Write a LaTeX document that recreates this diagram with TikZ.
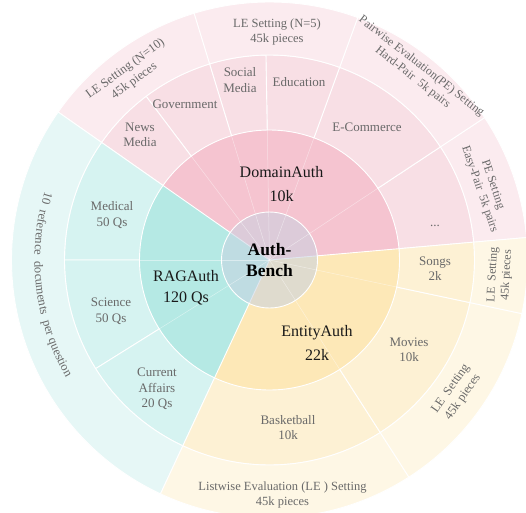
\documentclass[tikz,border=0pt]{standalone}
\usepackage{fontspec}
\setmainfont{Liberation Serif}
\usetikzlibrary{decorations.text}

\definecolor{pinkA}{RGB}{245,196,208}
\definecolor{pinkB}{RGB}{248,223,229}
\definecolor{pinkC}{RGB}{251,235,239}
\definecolor{tealA}{RGB}{181,233,228}
\definecolor{tealB}{RGB}{214,243,241}
\definecolor{tealC}{RGB}{230,247,246}
\definecolor{yelA}{RGB}{253,232,183}
\definecolor{yelB}{RGB}{253,241,212}
\definecolor{yelC}{RGB}{254,247,229}
\definecolor{hubgray}{RGB}{200,210,226}
\definecolor{txtgray}{RGB}{105,105,105}

\tikzset{
  seg/.style={fill=#1, draw=white, line width=0.9pt},
  faint/.style={white, opacity=0.45, line width=0.5pt},
  lvlone/.style={align=center, text=black!90, font=\fontsize{16}{24}\selectfont},
  lvltwo/.style={align=center, text=txtgray, font=\fontsize{13}{15.5}\selectfont},
  lvlthree/.style={align=center, text=txtgray, font=\fontsize{12.5}{15}\selectfont},
}

\begin{document}
\begin{tikzpicture}[x=1pt,y=1pt]
        \useasboundingbox (-269.5,-252) rectangle (256.5,260);
        \clip (-269.5,-252) rectangle (256.5,260);

        % inner ring
        \fill[pinkA] (0,0) -- (5:130) arc[start angle=5,end angle=145,radius=130] -- cycle;
        \fill[tealA] (0,0) -- (145:130) arc[start angle=145,end angle=245,radius=130] -- cycle;
        \fill[yelA] (0,0) -- (245:130) arc[start angle=245,end angle=365,radius=130] -- cycle;
        \draw[white, line width=0.9pt] (0,0) -- (5:130);
        \draw[white, line width=0.9pt] (0,0) -- (145:130);
        \draw[white, line width=0.9pt] (0,0) -- (245:130);

        % middle ring
        \path[seg=pinkB] (5:130) arc[start angle=5,end angle=33.5,radius=130] -- (33.5:205) arc[start angle=33.5,end angle=5,radius=205] -- cycle;
        \path[seg=pinkB] (33.5:130) arc[start angle=33.5,end angle=70,radius=130] -- (70:205) arc[start angle=70,end angle=33.5,radius=205] -- cycle;
        \path[seg=pinkB] (70:130) arc[start angle=70,end angle=91,radius=130] -- (91:205) arc[start angle=91,end angle=70,radius=205] -- cycle;
        \path[seg=pinkB] (91:130) arc[start angle=91,end angle=107,radius=130] -- (107:205) arc[start angle=107,end angle=91,radius=205] -- cycle;
        \path[seg=pinkB] (107:130) arc[start angle=107,end angle=127,radius=130] -- (127:205) arc[start angle=127,end angle=107,radius=205] -- cycle;
        \path[seg=pinkB] (127:130) arc[start angle=127,end angle=145,radius=130] -- (145:205) arc[start angle=145,end angle=127,radius=205] -- cycle;
        \path[seg=tealB] (145:130) arc[start angle=145,end angle=180,radius=130] -- (180:205) arc[start angle=180,end angle=145,radius=205] -- cycle;
        \path[seg=tealB] (180:130) arc[start angle=180,end angle=212,radius=130] -- (212:205) arc[start angle=212,end angle=180,radius=205] -- cycle;
        \path[seg=tealB] (212:130) arc[start angle=212,end angle=245,radius=130] -- (245:205) arc[start angle=245,end angle=212,radius=205] -- cycle;
        \path[seg=yelB] (245:130) arc[start angle=245,end angle=302.7,radius=130] -- (302.7:205) arc[start angle=302.7,end angle=245,radius=205] -- cycle;
        \path[seg=yelB] (302.7:130) arc[start angle=302.7,end angle=348,radius=130] -- (348:205) arc[start angle=348,end angle=302.7,radius=205] -- cycle;
        \path[seg=yelB] (348:130) arc[start angle=348,end angle=365,radius=130] -- (365:205) arc[start angle=365,end angle=348,radius=205] -- cycle;

        % outer ring
        \path[seg=pinkC] (5:205) arc[start angle=5,end angle=33.5,radius=205] -- (33.5:258) arc[start angle=33.5,end angle=5,radius=258] -- cycle;
        \path[seg=pinkC] (33.5:205) arc[start angle=33.5,end angle=70,radius=205] -- (70:258) arc[start angle=70,end angle=33.5,radius=258] -- cycle;
        \path[seg=pinkC] (70:205) arc[start angle=70,end angle=107,radius=205] -- (107:258) arc[start angle=107,end angle=70,radius=258] -- cycle;
        \path[seg=pinkC] (107:205) arc[start angle=107,end angle=145,radius=205] -- (145:258) arc[start angle=145,end angle=107,radius=258] -- cycle;
        \path[seg=tealC] (145:205) arc[start angle=145,end angle=245,radius=205] -- (245:258) arc[start angle=245,end angle=145,radius=258] -- cycle;
        \path[seg=yelC] (245:205) arc[start angle=245,end angle=302.7,radius=205] -- (302.7:258) arc[start angle=302.7,end angle=245,radius=258] -- cycle;
        \path[seg=yelC] (302.7:205) arc[start angle=302.7,end angle=348,radius=205] -- (348:258) arc[start angle=348,end angle=302.7,radius=258] -- cycle;
        \path[seg=yelC] (348:205) arc[start angle=348,end angle=365,radius=205] -- (365:258) arc[start angle=365,end angle=348,radius=258] -- cycle;

        % hub
        \filldraw[fill=hubgray, fill opacity=0.55, draw=white, line width=0.9pt] (0,0) circle (48);

        % faint lines in the inner ring
        \draw[faint] (0,0) -- (33.5:130);
        \draw[faint] (0,0) -- (70:130);
        \draw[faint] (0,0) -- (91:130);
        \draw[faint] (0,0) -- (107:130);
        \draw[faint] (0,0) -- (127:130);
        \draw[faint] (0,0) -- (180:130);
        \draw[faint] (0,0) -- (212:130);
        \draw[faint] (0,0) -- (302.7:130);
        \draw[faint] (0,0) -- (348:130);

        % labels
        \node[align=center, font=\fontsize{17.5}{21}\selectfont\bfseries] (bench) at (0,0) {Auth-\\Bench};
        \node[lvlone] (domain) at (12,76) {DomainAuth\\10k};
        \node[lvlone, font=\fontsize{16}{21}\selectfont] (rag) at (-83.5,-27.5) {RAGAuth\\120 Qs};
        \node[lvlone] (entity) at (47.5,-83) {EntityAuth\\22k};

        \node[lvltwo] (news) at (-129.5,125) {News\\Media};
        \node[lvltwo] (gov) at (-84.5,156) {Government};
        \node[lvltwo] (social) at (-29.5,180) {Social\\Media};
        \node[lvltwo] (edu) at (29.5,178) {Education};
        \node[lvltwo] (ecom) at (97.5,133) {E-Commerce};
        \node[lvltwo] (dots) at (165.5,34) {...};
        \node[lvltwo] (medical) at (-157.5,45) {Medical\\50 Qs};
        \node[lvltwo] (science) at (-158.5,-51) {Science\\50 Qs};
        \node[lvltwo] (affairs) at (-112.5,-129) {Current\\Affairs\\20 Qs};
        \node[lvltwo] (songs) at (165.5,-8.5) {Songs\\2k};
        \node[lvltwo] (movies) at (139.5,-90) {Movies\\10k};
        \node[lvltwo] (basket) at (18.5,-167.5) {Basketball\\10k};

        \node[lvlthree, rotate=36] (leten) at (-139.5,185) {LE Setting (N=10)\\45k pieces};
        \node[lvlthree] (lefive) at (7.5,228) {LE Setting (N=5)\\45k pieces};
        \node[lvlthree, font=\fontsize{12}{14}\selectfont, rotate=-38] (pehard) at (147.5,188) {Pairwise Evaluation(PE) Setting\\Hard-Pair~~5k pairs};
        \node[lvlthree, font=\fontsize{12}{14}\selectfont, rotate=-71] (peeasy) at (216.5,73) {PE Setting\\Easy-Pair~~5k pairs};
        \node[lvlthree, font=\fontsize{12}{14}\selectfont, rotate=87] (lesongs) at (230.5,-15) {LE~~Setting\\45k pieces};
        \node[lvlthree, rotate=55] (lemovies) at (187.5,-133) {LE~~Setting\\45k pieces};
        \node[lvlthree] (listwise) at (13,-235) {Listwise Evaluation (LE ) Setting\\45k pieces};
        \path[decorate, decoration={text along path, text align=center,
              text={|\fontsize{12.5}{15}\selectfont\color{txtgray}|10{\ }{\ }reference{\ }{\ }documents{\ }{\ }per question}}]
              (150:235) arc[start angle=150, end angle=223, radius=235];
\end{tikzpicture}
\end{document}
